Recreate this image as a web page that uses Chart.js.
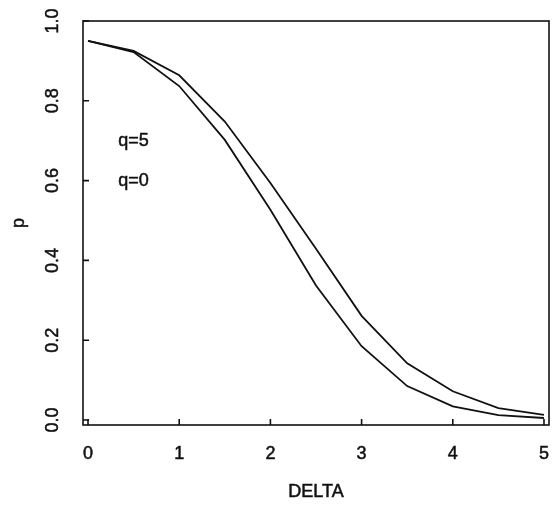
<!DOCTYPE html>
<html>
<head>
<meta charset="utf-8">
<title>p versus DELTA</title>
<script src="https://cdn.jsdelivr.net/npm/chart.js@4.4.1/dist/chart.umd.min.js"></script>
<style>
  html, body { margin: 0; padding: 0; background: #ffffff; }
  #wrap { width: 556px; height: 505px; position: relative; }
</style>
</head>
<body>
<div id="wrap"><canvas id="c" width="556" height="505"></canvas></div>
<script>
// DELTA values at which p was evaluated
const delta = [0, 0.5, 1, 1.5, 2, 2.5, 3, 3.5, 4, 4.5, 5];
// p for q = 5 (upper curve) and q = 0 (lower curve)
const pQ5 = [0.950, 0.925, 0.864, 0.748, 0.594, 0.429, 0.261, 0.142, 0.072, 0.030, 0.013];
const pQ0 = [0.950, 0.922, 0.837, 0.702, 0.527, 0.337, 0.185, 0.085, 0.034, 0.0125, 0.005];
// axis ticks
const xTicks = [0, 1, 2, 3, 4, 5];
const yTicks = [0.0, 0.2, 0.4, 0.6, 0.8, 1.0];
// curve annotations: text, DELTA position, p position
const curveLabels = ['q=5', 'q=0'];
const curveLabelX = [0.5, 0.5];
const curveLabelY = [0.7, 0.6];

const FONT = '"Liberation Sans", Arial, Helvetica, sans-serif';
const INK = '#111111';

function toPoints(xs, ys) {
  return xs.map((x, i) => ({ x: x, y: ys[i] }));
}

// filled text with a hairline outline so the glyphs read a little heavier
function inkText(ctx, t, x, y) {
  ctx.fillText(t, x, y);
  ctx.strokeText(t, x, y);
}

// Frame, inward ticks and all axis text, placed through the chart's scales
const framePlugin = {
  id: 'frame',
  afterDraw(chart) {
    const ctx = chart.ctx;
    const a = chart.chartArea;
    const xs = chart.scales.x;
    const ys = chart.scales.y;
    ctx.save();
    ctx.strokeStyle = INK;
    ctx.lineWidth = 1.6;
    ctx.strokeRect(a.left, a.top, a.right - a.left, a.bottom - a.top);

    const tickLen = 6;
    ctx.beginPath();
    xTicks.forEach(v => {
      const px = xs.getPixelForValue(v);
      ctx.moveTo(px, a.bottom);
      ctx.lineTo(px, a.bottom - tickLen);
    });
    yTicks.forEach(v => {
      const py = ys.getPixelForValue(v);
      ctx.moveTo(a.left, py);
      ctx.lineTo(a.left + tickLen, py);
    });
    ctx.stroke();

    ctx.fillStyle = INK;
    ctx.lineWidth = 0.5;
    ctx.font = '18px ' + FONT;
    ctx.textAlign = 'center';
    ctx.textBaseline = 'middle';
    xTicks.forEach(v => {
      inkText(ctx, String(v), xs.getPixelForValue(v), a.bottom + 29);
    });
    yTicks.forEach(v => {
      ctx.save();
      ctx.translate(a.left - 30, ys.getPixelForValue(v));
      ctx.rotate(-Math.PI / 2);
      inkText(ctx, v.toFixed(1), 0, 0);
      ctx.restore();
    });

    // axis titles
    inkText(ctx, 'DELTA', (a.left + a.right) / 2, a.bottom + 67);
    ctx.save();
    ctx.translate(a.left - 64, (a.top + a.bottom) / 2);
    ctx.rotate(-Math.PI / 2);
    inkText(ctx, 'p', 0, 0);
    ctx.restore();

    // curve annotations
    curveLabels.forEach((t, i) => {
      inkText(ctx, t, xs.getPixelForValue(curveLabelX[i]), ys.getPixelForValue(curveLabelY[i]));
    });
    ctx.restore();
  }
};

new Chart(document.getElementById('c'), {
  type: 'line',
  data: {
    datasets: [
      { label: 'q=5', data: toPoints(delta, pQ5) },
      { label: 'q=0', data: toPoints(delta, pQ0) }
    ]
  },
  options: {
    responsive: false,
    animation: false,
    events: [],
    layout: { padding: { left: 83, right: 7, top: 21, bottom: 80 } },
    elements: {
      line: { borderColor: INK, borderWidth: 1.8, tension: 0, fill: false },
      point: { radius: 0 }
    },
    plugins: { legend: { display: false }, tooltip: { enabled: false } },
    scales: {
      x: { type: 'linear', display: false, min: -0.055, max: 5.055 },
      y: { type: 'linear', display: false, min: -0.0125, max: 1.0 }
    }
  },
  plugins: [framePlugin]
});
</script>
</body>
</html>
